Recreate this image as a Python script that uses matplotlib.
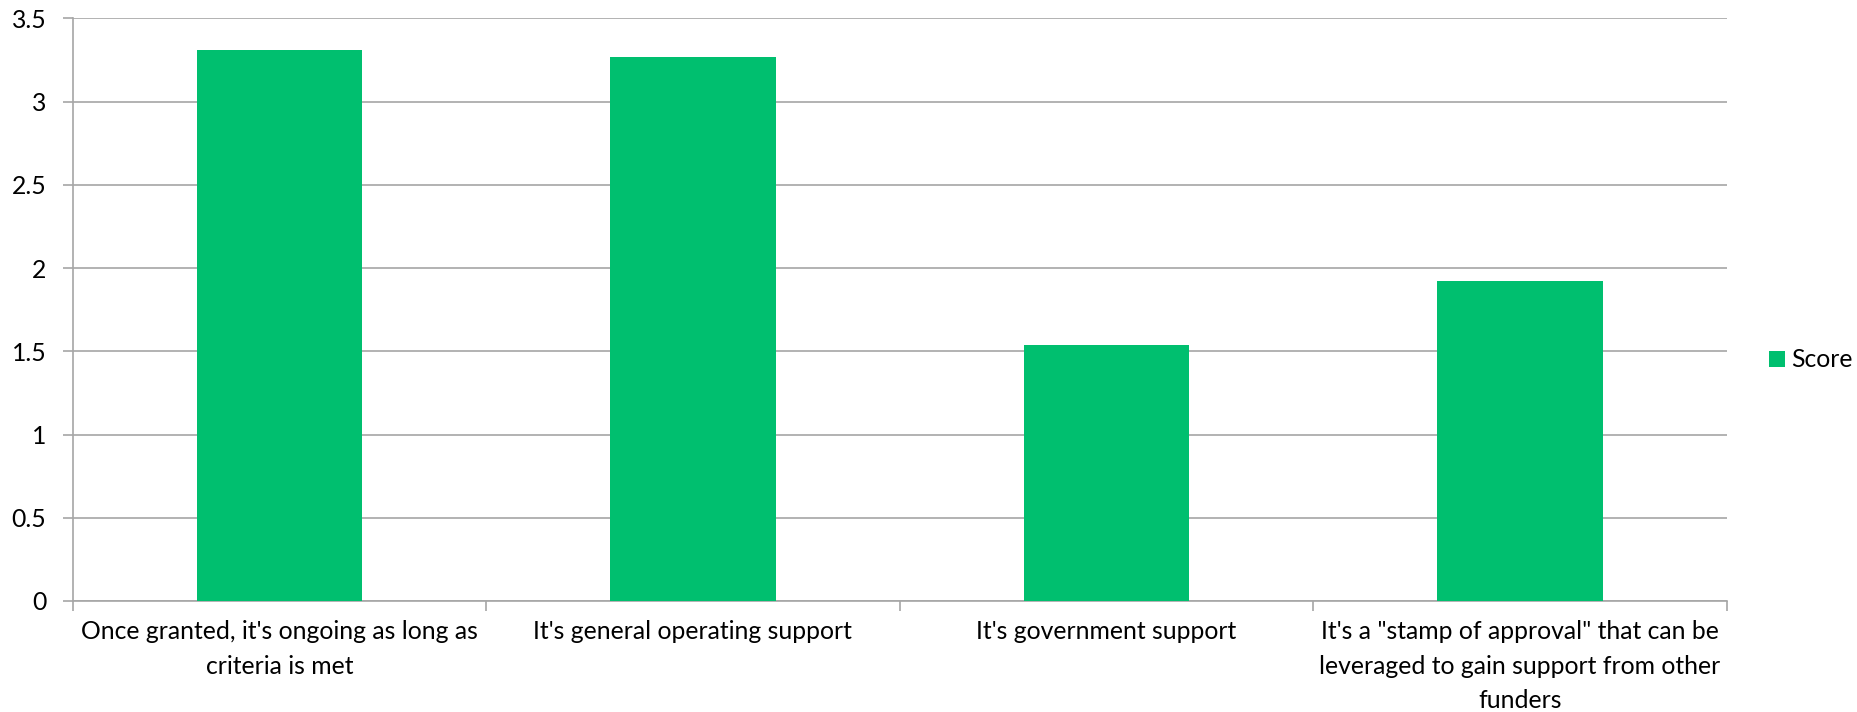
import matplotlib.pyplot as plt

plt.rcParams['font.family'] = ['Lato', 'DejaVu Sans']

categories = [
    "Once granted, it's ongoing as long as\ncriteria is met",
    "It's general operating support",
    "It's government support",
    "It's a \"stamp of approval\" that can be\nleveraged to gain support from other\nfunders",
]
scores = [3.31, 3.27, 1.54, 1.92]
yticks = [0, 0.5, 1, 1.5, 2, 2.5, 3, 3.5]

bar_color = '#00BF6F'
grid_color = '#A6A6A6'
font_size = 17.8

fig = plt.figure(figsize=(18.57, 7.12), dpi=100)
ax = fig.add_axes([0.0391, 0.1559, 0.8907, 0.8184])

x = range(len(categories))
ax.bar(x, scores, width=0.4, color=bar_color, label='Score', zorder=3)

ax.set_xlim(-0.5, len(categories) - 0.5)
ax.set_ylim(0, 3.5)
ax.set_yticks(yticks)
ax.set_yticklabels([f'{t:g}' for t in yticks])
ax.yaxis.grid(True, color=grid_color, linewidth=1.2, zorder=0)

# category labels sit between boundary ticks
ax.set_xticks([i + 0.5 for i in range(-1, len(categories))])
ax.set_xticklabels([])
ax.set_xticks(list(x), minor=True)
ax.set_xticklabels(categories, minor=True, fontsize=font_size, linespacing=1.6, va='top')
ax.tick_params(axis='x', which='minor', length=0, pad=14)
ax.tick_params(axis='x', which='major', length=7, color=grid_color, width=1.2)
ax.tick_params(axis='y', length=7, color=grid_color, width=1.2, labelsize=font_size, pad=12)

for side in ['top', 'right']:
    ax.spines[side].set_visible(False)
for side in ['left', 'bottom']:
    ax.spines[side].set_color(grid_color)
    ax.spines[side].set_linewidth(1.2)

ax.legend(loc='center left', bbox_to_anchor=(1.0257, 0.4136), frameon=False, fontsize=font_size,
          borderaxespad=0, borderpad=0,
          handlelength=0.65, handleheight=0.65, handletextpad=0.25)

fig.savefig('out.png', dpi=100)
